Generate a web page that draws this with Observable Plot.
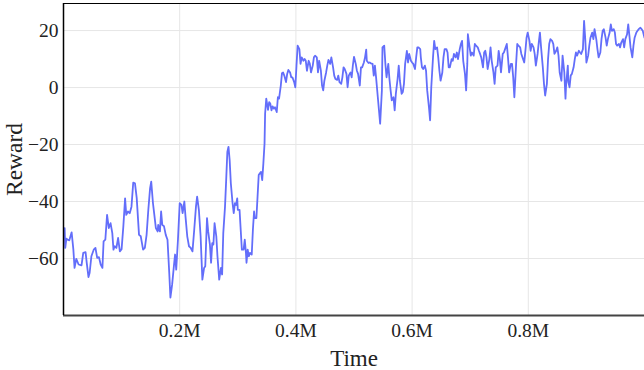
<!DOCTYPE html>
<html>
<head>
<meta charset="utf-8">
<script src="https://cdn.jsdelivr.net/npm/d3@7"></script>
<script src="https://cdn.jsdelivr.net/npm/@observablehq/plot@0.6"></script>
<style>
  html, body { margin: 0; padding: 0; background: #fff; }
  #chart svg { display: block; }
</style>
</head>
<body>
<div id="chart"></div>
<script>
// Training steps (thousands) and episode reward.
const stepsK = [
  2,3,5,7,10,14,17,19,22,26,31,34,38,40,43,45,48,52,55,58,61,64,67,69,72,75,78,81,84,86,88,91,94,97,100,103,106,108,111,114,117,120,123,126,
  130,133,137,140,143,146,149,151,154,156,159,162,163,166,168,170,173,176,179,182,184,187,190,192,194,197,200,203,205,208,210,213,216,219,222,225,228,230,233,236,239,242,244,247,249,252,254,
  256,258,260,263,265,268,271,273,275,278,280,282,284,286,288,291,293,295,297,299,300,303,305,307,310,312,314,315,317,319,321,324,326,328,329,332,334,336,338,340,342,344,346,
  347,349,352,354,356,358,360,362,364,367,369,371,374,376,378,380,383,385,387,390,392,394,397,399,401,403,406,408,410,413,415,417,419,422,424,426,429,431,433,436,438,440,443,445,447,449,452,454,456,459,461,
  464,466,468,471,473,475,478,480,482,484,487,489,491,494,496,498,500,503,505,507,510,512,514,517,519,521,522,525,527,529,532,534,536,538,541,543,545,548,549,552,554,556,559,561,563,565,568,570,572,575,577,579,582,584,586,588,591,593,595,
  598,600,602,605,607,609,611,614,615,617,619,622,624,626,629,631,633,636,638,640,643,645,647,649,652,654,656,659,661,663,665,668,670,672,675,677,679,682,684,686,688,691,693,695,696,699,701,703,706,708,710,713,715,717,719,722,
  724,726,728,730,733,735,737,740,742,744,747,749,751,753,756,758,760,763,765,767,770,772,774,776,779,781,783,786,788,790,793,795,797,799,802,804,806,809,811,813,816,818,820,822,825,827,829,832,834,836,838,841,843,845,848,850,852,854,857,
  859,862,864,865,867,868,869,871,873,875,878,880,882,884,887,889,891,894,896,898,900,903,905,907,910,912,914,917,919,921,924,926,928,930,933,935,937,940,942,944,947,949,951,953,956,958,960,963,965,967,970,972,974,976,979,981,983,986,988,990,993,995,997,1000
];
const reward = [
  -49.3,-56.3,-53.0,-53.4,-53.6,-50.8,-56.9,-63.3,-60.1,-62.1,-62.4,-58.0,-57.8,-61.5,-66.5,-65.0,-59.2,-56.9,-56.3,-59.8,-59.5,-62.1,-63.3,-54.0,-53.4,-44.7,-49.3,-47.6,-51.1,-56.9,-55.7,-56.3,-52.8,-57.5,-56.7,-48.7,-38.9,-44.7,-43.5,-44.1,-41.8,-33.4,-33.6,-38.7,
  -51.7,-52.2,-56.9,-56.3,-51.7,-42.9,-35.4,-33.0,-40.6,-44.1,-49.3,-50.5,-48.2,-50.5,-43.5,-48.2,-48.7,-51.7,-53.4,-65.0,-73.7,-69.1,-62.7,-58.6,-63.9,-53.4,-40.6,-41.2,-44.1,-40.0,-45.3,-52.2,-55.7,-56.3,-57.5,-49.9,-41.8,-38.3,-42.9,-52.2,-67.4,-63.3,-62.7,-45.8,-50.5,-55.1,-61.5,
  -54.6,-55.1,-47.6,-52.2,-59.2,-67.4,-63.3,-65.6,-51.1,-41.8,-32.5,-22.6,-20.8,-25.5,-33.6,-40.6,-44.1,-40.6,-41.2,-38.9,-42.9,-42.9,-49.9,-56.9,-56.9,-53.4,-58.0,-61.5,-56.9,-59.2,-58.0,-58.6,-49.9,-43.5,-45.8,-45.8,-38.3,-30.7,-30.1,-29.6,-32.5,-26.6,-19.7,
  -9.2,-3.9,-7.8,-5.1,-5.7,-8.0,-6.6,-7.4,-6.9,-8.6,-3.4,-3.9,0.7,5.0,5.3,4.2,1.9,4.8,6.2,5.3,3.6,3.6,1.9,0.1,7.7,14.7,13.5,8.3,10.6,9.4,10.0,9.4,5.9,9.4,8.3,5.3,7.7,10.6,11.2,10.6,5.3,9.4,5.9,0.7,-1.0,2.4,5.3,7.7,9.7,8.3,10.6,
  7.1,4.2,3.0,2.7,4.2,1.9,1.3,3.6,7.1,6.5,4.8,0.1,4.2,5.3,3.6,7.7,10.8,8.3,5.9,4.8,0.7,7.1,7.1,8.8,10.6,13.3,9.4,8.6,8.8,8.5,8.3,4.2,7.7,3.6,-3.4,-8.0,-12.7,-1.0,14.1,14.7,8.3,3.6,8.3,3.0,-1.0,-4.5,-3.4,-8.0,-2.2,3.0,7.7,2.4,-2.2,-1.6,1.3,8.3,12.9,8.8,11.8,
  9.4,8.8,8.3,6.5,10.6,14.1,14.1,13.5,10.6,7.1,6.5,7.7,5.9,-1.0,-6.9,-11.5,0.1,10.6,16.4,13.5,14.1,10.6,5.9,2.4,5.3,10.6,13.5,13.5,12.3,7.1,7.1,10.0,9.4,11.8,10.6,12.3,10.0,13.5,15.3,16.4,9.4,4.8,-1.0,8.3,18.7,14.1,11.2,12.3,11.2,15.3,14.7,14.1,12.9,11.8,10.6,7.1,
  12.3,12.9,10.6,6.5,10.0,14.1,9.4,5.3,1.3,7.1,7.7,12.9,10.0,5.3,11.8,12.3,13.5,15.3,10.6,5.3,8.3,8.3,3.6,-3.4,8.3,15.3,14.7,14.1,11.8,10.6,8.8,12.9,17.5,19.3,16.4,12.9,15.3,14.1,11.8,7.7,11.8,15.8,19.3,14.1,7.1,1.3,-2.8,1.3,10.0,15.3,17.0,16.4,15.3,11.8,12.9,14.1,11.2,5.3,2.4,
  11.2,5.3,-3.9,0.7,5.3,7.7,1.9,0.1,4.2,4.8,7.1,10.0,12.3,11.2,12.9,12.3,11.8,13.5,23.4,17.0,8.8,11.2,14.7,17.5,19.3,17.0,20.5,17.0,13.5,10.6,12.3,17.0,19.9,20.5,17.5,14.7,17.0,19.3,22.2,19.9,20.5,19.3,15.3,14.7,15.3,14.1,15.8,17.0,14.1,17.0,18.7,22.2,18.2,14.1,10.6,14.7,17.5,19.3,19.9,20.5,21.0,20.5,19.9,17.5
];

// Axis ticks
const xTickValues = [200000, 400000, 600000, 800000];
const xGridValues = [200000, 400000, 600000, 800000, 1000000];
const yTickValues = [-60, -40, -20, 0, 20];

const xDomain = [0, 1000000];
const yDomain = [-80, 29.5];

const rows = stepsK.map((s, i) => ({time: s * 1000, reward: reward[i]}));

const serif = "'Liberation Serif', 'Times New Roman', Times, serif";

const chart = Plot.plot({
  width: 644,
  height: 370,
  marginLeft: 63,
  marginRight: 0,
  marginTop: 3,
  marginBottom: 55,
  style: {fontFamily: serif, background: "#fff", color: "#222"},
  x: {domain: xDomain},
  y: {domain: yDomain},
  marks: [
    Plot.gridX(xGridValues, {stroke: "#e6e6e6", strokeOpacity: 1, strokeWidth: 1}),
    Plot.gridY(yTickValues, {stroke: "#e6e6e6", strokeOpacity: 1, strokeWidth: 1}),
    Plot.axisX(xTickValues, {
      tickSize: 0, tickPadding: 8, fontSize: 19.5, label: null,
      tickFormat: d => `${d / 1e6}M`
    }),
    Plot.axisY(yTickValues, {tickSize: 0, tickPadding: 5, fontSize: 19.5, label: null}),
    Plot.line(rows, {x: "time", y: "reward", stroke: "#636efa", strokeWidth: 1.8}),
    // frame: top, left and bottom edges
    Plot.ruleY([yDomain[1]], {stroke: "#000", strokeWidth: 1.2}),
    Plot.ruleY([yDomain[0]], {stroke: "#444", strokeWidth: 2}),
    Plot.ruleX([xDomain[0]], {stroke: "#000", strokeWidth: 1.5}),
    Plot.text(["Time"], {
      frameAnchor: "bottom", textAnchor: "middle", lineAnchor: "middle",
      dy: 43, fontSize: 23, fill: "#222"
    }),
    Plot.text(["Reward"], {
      frameAnchor: "left", textAnchor: "middle", lineAnchor: "middle",
      dx: -49, rotate: -90, fontSize: 23.5, fill: "#222"
    })
  ]
});

document.getElementById("chart").appendChild(chart);
</script>
</body>
</html>
